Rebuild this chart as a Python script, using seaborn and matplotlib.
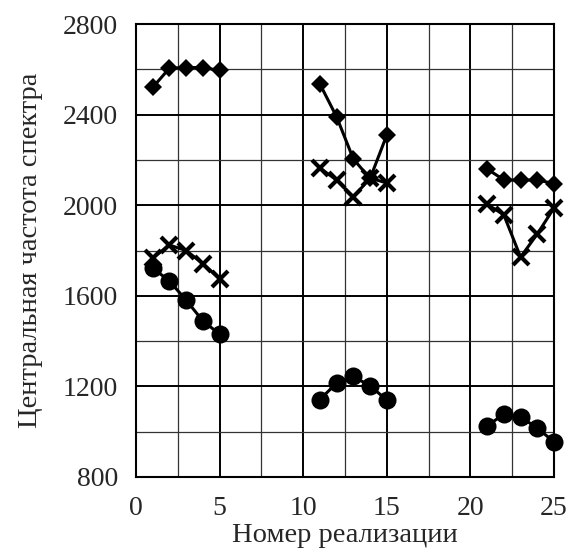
import numpy as np
import pandas as pd
import matplotlib
matplotlib.use("Agg")
import matplotlib.pyplot as plt
import seaborn as sns

sns.set_theme(style="white")
plt.rcParams['font.family'] = ['Liberation Serif', 'DejaVu Serif']

groups_x = [[1, 2, 3, 4, 5], [11, 12, 13, 14, 15], [21, 22, 23, 24, 25]]
diamond_vals = [[2520, 2605, 2608, 2608, 2595],
                [2535, 2390, 2204, 2118, 2310],
                [2160, 2112, 2110, 2112, 2095]]
cross_vals = [[1767, 1824, 1800, 1742, 1675],
              [2164, 2111, 2036, 2120, 2098],
              [2005, 1957, 1771, 1873, 1988]]
circle_vals = [[1723, 1665, 1581, 1489, 1431],
               [1142, 1215, 1244, 1202, 1140],
               [1025, 1078, 1065, 1016, 955]]

series_names = ["diamond", "cross", "circle"]
series_vals = [diamond_vals, cross_vals, circle_vals]

rows = []
for name, vals in zip(series_names, series_vals):
    for g, (xs, ys) in enumerate(zip(groups_x, vals)):
        for x, y in zip(xs, ys):
            rows.append({"x": x, "y": y, "series": name, "group": g})
df = pd.DataFrame(rows)

fig = plt.figure(figsize=(5.68, 5.59), dpi=100)
ax = fig.add_axes([0.2394, 0.1467, 0.9754 - 0.2394, 0.957 - 0.1467])

styles = {
    "diamond": dict(marker="D", markersize=9.5, markeredgewidth=0),
    "cross": dict(marker="x", markersize=11, markeredgewidth=3),
    "circle": dict(marker="o", markersize=13, markeredgewidth=0),
}
for name in series_names:
    sub = df[df["series"] == name]
    sns.lineplot(data=sub, x="x", y="y", units="group", estimator=None,
                 color="black", linewidth=2.2, ax=ax, legend=False,
                 markeredgecolor="black", markerfacecolor="black",
                 clip_on=False, **styles[name])

ax.set_xlim(0, 25)
ax.set_ylim(800, 2800)
ax.set_xticks([0, 5, 10, 15, 20, 25])
ax.set_yticks([800, 1200, 1600, 2000, 2400, 2800])
ax.set_xticks(np.arange(0, 25.1, 2.5), minor=True)
ax.set_yticks(np.arange(800, 2801, 200), minor=True)
ax.grid(which="major", color="black", linewidth=1.4)
ax.grid(which="minor", color="#333333", linewidth=0.9)
ax.set_axisbelow(True)
for s in ax.spines.values():
    s.set_color("black")
    s.set_linewidth(1.5)
ax.tick_params(axis="y", which="major", labelsize=20, length=0, pad=13)
ax.tick_params(axis="x", which="major", labelsize=20, length=0, pad=14)
ax.tick_params(which="minor", length=0)
ax.set_xlabel("Номер реализации", fontsize=20.5, labelpad=1)
ax.set_ylabel("Центральная частота спектра", fontsize=20.5, labelpad=14)

fig.savefig("out.png", dpi=100)
